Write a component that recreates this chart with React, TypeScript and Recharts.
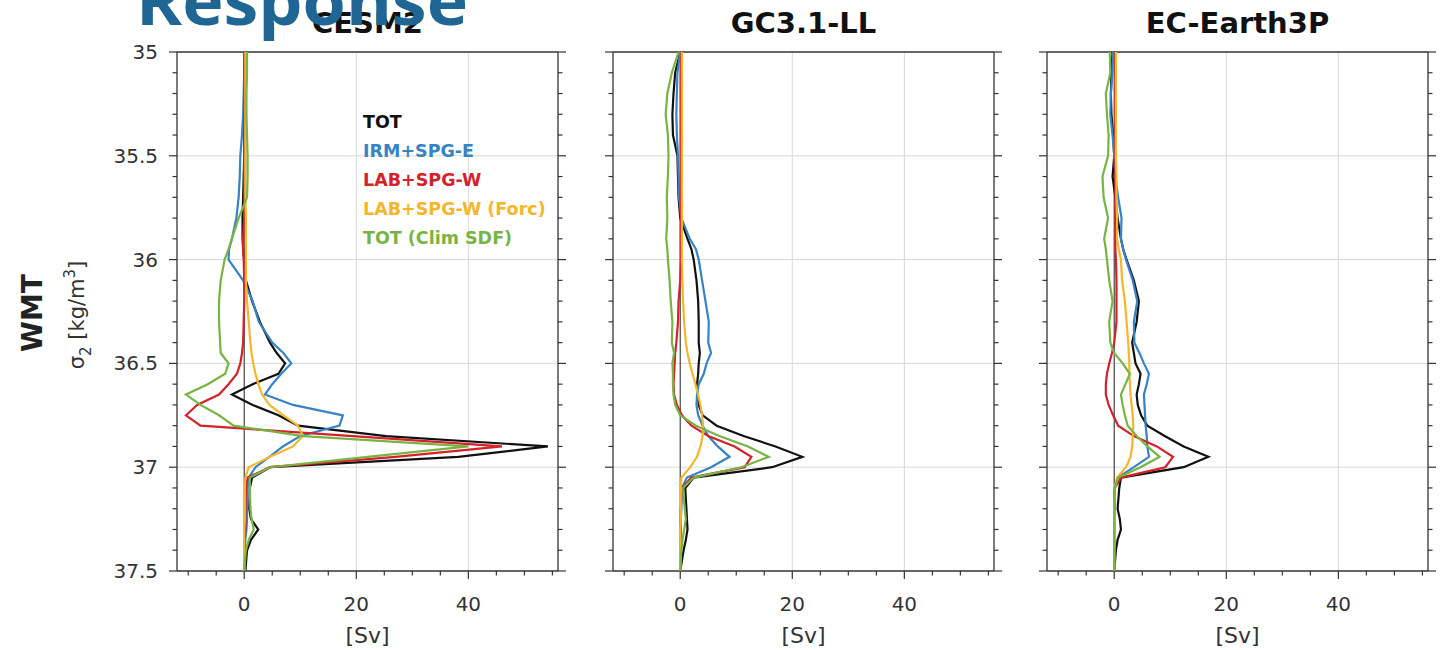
import React from "react";
import { ScatterChart, Scatter, XAxis, YAxis, ReferenceLine } from "recharts";

// density levels shared by every profile (sigma_2, kg/m3)
const sigma = [35.0, 35.1, 35.2, 35.3, 35.4, 35.5, 35.6, 35.7, 35.8, 35.9, 35.95, 36.0, 36.1, 36.2, 36.3, 36.4, 36.45, 36.5, 36.55, 36.6, 36.65, 36.7, 36.75, 36.8, 36.85, 36.9, 36.95, 37.0, 37.05, 37.1, 37.2, 37.25, 37.3, 37.35, 37.4, 37.5];

// CESM2 [Sv]
const cesmTot = [0.2, 0.1, 0.1, 0, 0, 0, -0.1, -0.2, -0.3, -0.3, -0.2, 0, 0.3, 1.4, 2.8, 4.6, 5.8, 7.3, 6.1, 1.5, -2.2, 1.5, 6.1, 9.6, 25.3, 54.2, 38.2, 4.6, 1.4, 1.0, 0.9, 1.2, 2.5, 1.2, 0.5, 0.2];
const cesmIrm = [0.1, 0, -0.1, -0.2, -0.4, -0.7, -0.8, -1.0, -1.4, -2.2, -2.7, -2.8, -0.2, 1.5, 2.6, 5.0, 7.0, 8.4, 6.6, 5.0, 3.7, 8.7, 17.6, 17.0, 10.0, 6.9, 4.5, 2.0, 0.8, 0.6, 0.5, 0.5, 0.4, 0.2, 0.1, 0];
const cesmLab = [0, 0, 0, 0, 0, 0, 0, 0, 0, -0.2, -0.2, -0.1, 0, 0, -0.1, -0.2, -0.4, -0.7, -1.3, -2.8, -4.5, -8.4, -10.4, -7.8, 19.4, 46, 27, 4.6, 0.6, 0.3, 0.2, 0.2, 0.2, 0.1, 0.1, 0];
const cesmForc = [0.2, 0.2, 0.2, 0.2, 0.2, 0.2, 0.2, 0.2, 0.3, 0.3, 0.3, 0.3, 0.3, 0.5, 0.8, 1.1, 1.3, 1.6, 2.0, 2.5, 3.2, 4.5, 7.0, 9.6, 10.5, 8.7, 4.6, 0.8, 0.2, 0.1, 0.1, 0.1, 0, 0, 0, 0];
const cesmClim = [0.5, 0.5, 0.4, 0.4, 0.5, 0.6, 0.6, 0.5, -1.0, -2.2, -2.8, -3.5, -4.2, -4.5, -4.5, -4.3, -4.2, -2.8, -3.4, -6.5, -10.4, -7.8, -4.5, -1.9, 10.5, 40, 22, 4.6, 1.0, 1.0, 1.1, 1.3, 1.7, 0.8, 0.3, 0];

// GC3.1-LL [Sv]
const gcTot = [0, -0.9, -1.2, -1.4, -1.3, -0.5, -0.4, -0.3, 0, 1.3, 2.0, 2.4, 2.9, 3.2, 3.3, 3.3, 3.5, 3.3, 3.2, 3.0, 3.1, 3.3, 4.0, 6.5, 11.3, 17.0, 21.8, 16.4, 2.4, 0.9, 1.1, 1.2, 1.3, 1.0, 0.6, 0];
const gcIrm = [0, -0.5, -0.6, -0.7, -0.6, -0.4, -0.3, -0.2, 0.2, 1.7, 2.8, 3.3, 3.9, 4.5, 5.1, 5.0, 5.5, 4.7, 4.2, 3.3, 3.0, 2.9, 3.2, 4.0, 5.0, 6.7, 8.8, 5.5, 1.2, 0.3, 0.2, 0.1, 0.1, 0.1, 0, 0];
const gcLab = [0.2, 0.1, 0.1, 0.1, 0.1, 0.1, 0.1, 0.1, 0.1, 0.1, 0.1, 0.1, 0, -0.3, -0.4, -0.7, -0.9, -1.0, -1.1, -1.2, -1.1, -0.6, 0.3, 2.0, 5.0, 9.7, 12.7, 11.5, 2.0, 0.3, 0.1, 0.1, 0.1, 0, 0, 0];
const gcForc = [0.3, 0.3, 0.3, 0.3, 0.3, 0.3, 0.3, 0.3, 0.3, 0.3, 0.3, 0.3, 0.4, 0.5, 0.7, 1.0, 1.3, 1.7, 2.2, 2.7, 3.2, 3.6, 3.9, 4.1, 4.0, 3.6, 3.0, 1.8, 0.2, 0.1, 0.1, 0.1, 0, 0, 0, 0];
const gcClim = [-0.3, -1.5, -2.3, -2.6, -2.2, -2.1, -2.2, -2.4, -2.3, -2.5, -2.3, -2.2, -1.9, -1.7, -1.4, -1.5, -1.1, -1.4, -1.3, -1.3, -1.2, -0.9, 0, 2.8, 7.0, 12.1, 15.8, 10.9, 2.4, 0.5, 0.8, 1.0, 0.7, 0.4, 0.2, 0];

// EC-Earth3P [Sv]
const ecTot = [-0.3, -0.5, -0.6, -0.5, -0.2, 0, -0.3, 0.2, 0.6, 1.2, 1.6, 2.2, 3.5, 4.4, 4.0, 3.2, 3.5, 3.8, 4.7, 4.4, 4.0, 4.2, 4.8, 5.9, 9.0, 12.4, 16.8, 12.4, 1.2, 0.9, 0.6, 1.0, 1.2, 0.6, 0.3, 0];
const ecIrm = [-0.2, -0.3, -0.6, -0.7, -0.3, 0, 0.2, 0.7, 1.3, 1.2, 1.6, 2.1, 3.3, 4.1, 3.5, 3.6, 4.5, 5.3, 6.2, 5.8, 5.3, 5.4, 5.5, 5.6, 5.8, 5.9, 6.2, 3.5, 0.6, 0.1, 0, 0, 0, 0, 0, 0];
const ecLab = [0.2, 0.2, 0.2, 0.2, 0.2, 0.2, 0.2, 0.2, 0.2, 0.2, 0.2, 0.3, 0.4, 0.4, 0.4, 0, -0.4, -0.9, -1.3, -1.5, -1.5, -1.0, -0.2, 0.7, 3.5, 7.6, 10.5, 9.1, 1.2, 0.1, 0, 0, 0, 0, 0, 0];
const ecForc = [0.3, 0.3, 0.3, 0.3, 0.3, 0.3, 0.4, 0.4, 0.5, 0.5, 0.8, 1.2, 1.4, 1.9, 2.2, 2.5, 2.6, 2.7, 2.7, 2.8, 2.9, 3.1, 3.3, 3.4, 3.3, 3.2, 2.9, 2.1, 0.5, 0.1, 0, 0, 0, 0, 0, 0];
const ecClim = [-0.8, -0.7, -1.5, -1.3, -1.0, -1.1, -2.1, -1.9, -1.1, -1.8, -1.5, -1.3, -0.9, -0.3, -0.9, -0.7, 0, 1.5, 2.8, 2.0, 1.2, 1.5, 1.9, 2.4, 4.0, 5.9, 8.1, 4.7, 0.7, 0.1, 0.1, 0, 0, 0, 0, 0];

const modelNames = ["CESM2", "GC3.1-LL", "EC-Earth3P"];
const legendLabels = ["TOT", "IRM+SPG-E", "LAB+SPG-W", "LAB+SPG-W (Forc)", "TOT (Clim SDF)"];
const colors = ["#111111", "#3783c3", "#d3222a", "#f5b62c", "#78b443"];

const xTicks = [-10, -5, 0, 5, 10, 15, 20, 25, 30, 35, 40, 45, 50, 55];
const xMajor = [0, 20, 40];
const yTicks = [35, 35.1, 35.2, 35.3, 35.4, 35.5, 35.6, 35.7, 35.8, 35.9, 36, 36.1, 36.2, 36.3, 36.4, 36.5, 36.6, 36.7, 36.8, 36.9, 37, 37.1, 37.2, 37.3, 37.4, 37.5];
const yMajor = [35, 35.5, 36, 36.5, 37, 37.5];
const yGrid = [35.5, 36, 36.5, 37];

const panels = [
  { left: 177, series: [cesmTot, cesmIrm, cesmLab, cesmForc, cesmClim] },
  { left: 613, series: [gcTot, gcIrm, gcLab, gcForc, gcClim] },
  { left: 1047, series: [ecTot, ecIrm, ecLab, ecForc, ecClim] },
];

const FONT = "DejaVu Sans";
const AXIS = "#333";
const PW = 381;

const toPoints = (vals: number[]) => sigma.map((s, i) => ({ v: vals[i], s }));

const BottomTick = (p: any) => {
  const major = xMajor.includes(p.payload.value);
  return (
    <g>
      <line x1={p.x} x2={p.x} y1={p.y} y2={p.y + (major ? 8 : 4.5)} stroke={AXIS} strokeWidth={1.2} />
      {major && (
        <text x={p.x} y={p.y + 40} textAnchor="middle" fontSize={20} fill="#333" fontFamily={FONT}>
          {p.payload.value}
        </text>
      )}
    </g>
  );
};

const TopTick = (p: any) => {
  const major = xMajor.includes(p.payload.value);
  return <line x1={p.x} x2={p.x} y1={p.y} y2={p.y - (major ? 8 : 4.5)} stroke={AXIS} strokeWidth={1.2} />;
};

const RightTick = (p: any) => {
  const major = yMajor.includes(p.payload.value);
  return <line x1={p.x} x2={p.x + (major ? 8 : 4.5)} y1={p.y} y2={p.y} stroke={AXIS} strokeWidth={1.2} />;
};

const makeLeftTick = (labels: boolean) => (p: any) => {
  const major = yMajor.includes(p.payload.value);
  return (
    <g>
      <line x1={p.x - (major ? 8 : 4.5)} x2={p.x} y1={p.y} y2={p.y} stroke={AXIS} strokeWidth={1.2} />
      {labels && major && (
        <text x={p.x - 19} y={p.y + 7} textAnchor="end" fontSize={20} fill="#333" fontFamily={FONT}>
          {p.payload.value}
        </text>
      )}
    </g>
  );
};

const axisLine = { stroke: AXIS, strokeWidth: 1.3 };

function Panel({ idx }: { idx: number }) {
  const { left, series } = panels[idx];
  return (
    <div style={{ position: "absolute", left: left - 70, top: 0 }}>
      <ScatterChart width={70 + PW + 30} height={650} margin={{ top: 32, right: 10, bottom: 0, left: 0 }}>
        <XAxis xAxisId="b" type="number" dataKey="v" domain={[-12, 56]} allowDataOverflow ticks={xTicks} interval={0}
          orientation="bottom" height={79} tickSize={0} tickMargin={0} tickLine={false} axisLine={axisLine} tick={BottomTick} />
        <XAxis xAxisId="t" type="number" domain={[-12, 56]} allowDataOverflow ticks={xTicks} interval={0}
          orientation="top" height={20} tickSize={0} tickMargin={0} tickLine={false} axisLine={axisLine} tick={TopTick} />
        <YAxis yAxisId="l" type="number" dataKey="s" domain={[35, 37.5]} allowDataOverflow reversed ticks={yTicks} interval={0}
          width={70} tickSize={0} tickMargin={0} tickLine={false} axisLine={axisLine} tick={makeLeftTick(idx === 0)} />
        <YAxis yAxisId="r" type="number" orientation="right" domain={[35, 37.5]} allowDataOverflow reversed ticks={yTicks} interval={0}
          width={20} tickSize={0} tickMargin={0} tickLine={false} axisLine={axisLine} tick={RightTick} />
        {xMajor.filter((v) => v !== 0).map((v) => (
          <ReferenceLine key={"gx" + v} xAxisId="b" yAxisId="l" x={v} stroke="#d9d9d9" strokeWidth={1} />
        ))}
        {yGrid.map((v) => (
          <ReferenceLine key={"gy" + v} xAxisId="b" yAxisId="l" y={v} stroke="#d9d9d9" strokeWidth={1} />
        ))}
        <ReferenceLine xAxisId="b" yAxisId="l" x={0} stroke="#444" strokeWidth={1.2} />
        {series.map((vals, k) => (
          <Scatter key={k} xAxisId="b" yAxisId="l" data={toPoints(vals)} fill={colors[k]}
            line={{ stroke: colors[k], strokeWidth: 2.2, fill: "none" }} lineType="joint"
            shape={() => <g />} isAnimationActive={false} />
        ))}
      </ScatterChart>
    </div>
  );
}

export default function App() {
  return (
    <div style={{ position: "absolute", left: 0, top: 0, width: 1442, height: 650, background: "#fff", overflow: "hidden" }}>
      {panels.map((_, i) => (
        <Panel key={i} idx={i} />
      ))}
      <svg width={1442} height={650} style={{ position: "absolute", left: 0, top: 0, pointerEvents: "none" }}>
        {panels.map((p, i) => (
          <text key={i} x={p.left + PW / 2} y={33} textAnchor="middle" fontSize={29} fontWeight="bold" fill="#111" fontFamily={FONT}>
            {modelNames[i]}
          </text>
        ))}
        {panels.map((p, i) => (
          <text key={"sv" + i} x={p.left + PW / 2} y={643} textAnchor="middle" fontSize={22} fill="#333" fontFamily={FONT}>
            [Sv]
          </text>
        ))}
        {legendLabels.map((l, i) => (
          <text key={l} x={363} y={128 + i * 29} fontSize={17.5} fontWeight="bold" fill={colors[i]} fontFamily={FONT}>
            {l}
          </text>
        ))}
        <text transform="translate(42, 313) rotate(-90)" textAnchor="middle" fontSize={28} fontWeight="bold" fill="#222" fontFamily={FONT}>
          WMT
        </text>
        <text transform="translate(84, 315) rotate(-90)" textAnchor="middle" fontSize={21} fill="#333" fontFamily={FONT}>
          σ<tspan dy={7} fontSize={15}>2</tspan>
          <tspan dy={-7}> [kg/m</tspan>
          <tspan dy={-9} fontSize={15}>3</tspan>
          <tspan dy={9}>]</tspan>
        </text>
        <text x={136} y={25} fontSize={67} fontWeight="bold" fill="#1f6695" fontFamily="Open Sans"
          textLength={332} lengthAdjust="spacingAndGlyphs">
          Response
        </text>
      </svg>
    </div>
  );
}
